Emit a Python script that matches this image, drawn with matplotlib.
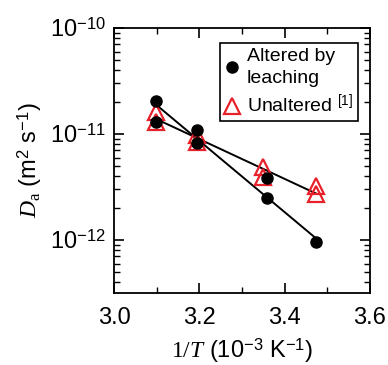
import numpy as np
import matplotlib
matplotlib.use("Agg")
import matplotlib.pyplot as plt
from matplotlib.ticker import FixedLocator, LogLocator, FuncFormatter, NullFormatter
from matplotlib.lines import Line2D

plt.rcParams['font.family'] = ['Liberation Sans', 'DejaVu Sans']
plt.rcParams['mathtext.fontset'] = 'custom'
plt.rcParams['mathtext.rm'] = 'Liberation Sans'
plt.rcParams['mathtext.it'] = 'Liberation Serif:italic'
plt.rcParams['mathtext.sf'] = 'Liberation Serif'

# datos
x_alt = [3.098, 3.098, 3.195, 3.195, 3.358, 3.358, 3.473]
d_alt = [2.05e-11, 1.29e-11, 1.08e-11, 8.3e-12, 3.85e-12, 2.48e-12, 9.6e-13]
x_unalt = [3.098, 3.098, 3.195, 3.195, 3.350, 3.350, 3.473, 3.473]
d_unalt = [1.61e-11, 1.30e-11, 9.7e-12, 8.4e-12, 4.9e-12, 3.9e-12, 3.2e-12, 2.7e-12]
# rectas de ajuste
fit_x = [3.098, 3.473]
fit_alt = [1.9e-11, 1.04e-12]
fit_unalt = [1.39e-11, 2.75e-12]

rojo = '#e8202a'

fig = plt.figure(figsize=(3.88, 3.65), dpi=100)
ax = fig.add_axes([0.2938, 0.1973, 0.6598, 0.726])

ax.plot(fit_x, fit_alt, color='black', lw=1.4, zorder=2)
ax.plot(fit_x, fit_unalt, color='black', lw=1.4, zorder=2)
ax.plot(x_unalt, d_unalt, linestyle='none', marker='^', ms=11, mfc='none',
        mec=rojo, mew=1.6, zorder=3)
ax.plot(x_alt, d_alt, linestyle='none', marker='o', ms=8, color='black', zorder=4)

ax.set_yscale('log')
ax.set_xlim(3.0, 3.6)
ax.set_ylim(10 ** -12.5, 1e-10)

ax.xaxis.set_major_locator(FixedLocator([3.0, 3.2, 3.4, 3.6]))
ax.xaxis.set_minor_locator(FixedLocator([3.1, 3.3, 3.5]))
ax.yaxis.set_major_locator(LogLocator(base=10, numticks=10))
ax.yaxis.set_minor_locator(LogLocator(base=10, subs=np.arange(2, 10), numticks=20))
ax.yaxis.set_minor_formatter(NullFormatter())


def fmt_y(v, pos):
    e = int(round(np.log10(v)))
    return r"10$^{\mathregular{%d}}$" % e


ax.yaxis.set_major_formatter(FuncFormatter(fmt_y))
ax.xaxis.set_major_formatter(FuncFormatter(lambda v, p: "%.1f" % v))

ax.tick_params(which='both', direction='in', top=True, right=True, labelsize=17)
ax.tick_params(which='major', length=7, width=1.2, pad=6)
ax.tick_params(axis='x', which='major', pad=10)
ax.tick_params(which='minor', length=4, width=1.0)
for s in ax.spines.values():
    s.set_linewidth(1.3)

ax.set_xlabel(r"$\mathsf{1/}\mathit{T}$ (10$^{-3}$ K$^{-1}$)", fontsize=17, labelpad=5)
ax.set_ylabel(r"$\mathit{D}_{\mathsf{a}}$ (m$^{2}$ s$^{-1}$)", fontsize=17, labelpad=4)

handles = [
    Line2D([], [], linestyle='none', marker='o', ms=8, color='black'),
    Line2D([], [], linestyle='none', marker='^', ms=11, mfc='none', mec=rojo, mew=1.6),
]
labels = ["Altered by\nleaching", r"Unaltered $^{[1]}$"]
leg = ax.legend(handles, labels, loc='upper right', bbox_to_anchor=(0.953, 0.943),
                fontsize=14, frameon=True, fancybox=False, framealpha=1,
                edgecolor='black', handlelength=0.8, handletextpad=0.35,
                borderpad=0.25, labelspacing=0.35, borderaxespad=0)
leg.get_frame().set_linewidth(1.2)
for t in leg.get_texts():
    t.set_linespacing(1.35)

fig.savefig("out.png", dpi=100)
